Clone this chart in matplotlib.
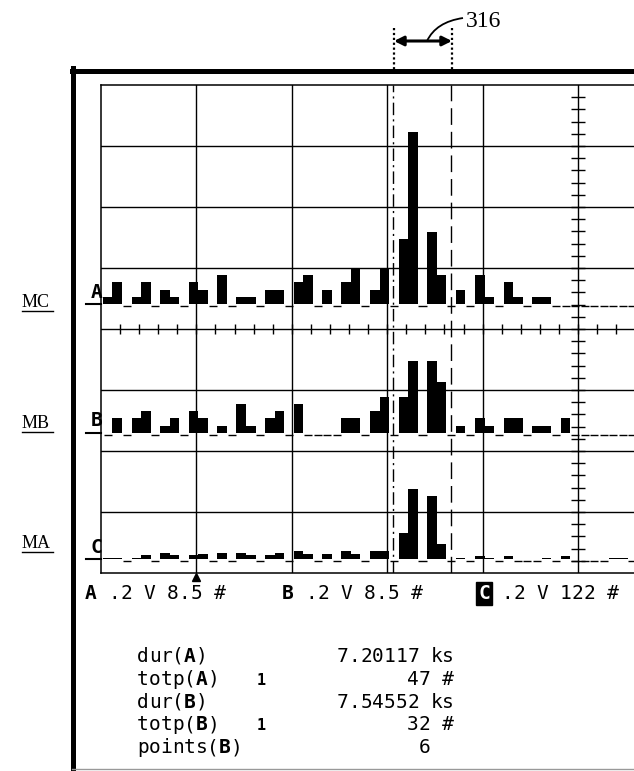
import numpy as np
import matplotlib.pyplot as plt
from matplotlib.lines import Line2D
from matplotlib.patches import FancyArrowPatch, PathPatch
from matplotlib.path import Path

# histogram counts, 10 bins per horizontal division (visible part of the screen)
counts_a = [1, 3, 0, 1, 3, 0, 2, 1, 0, 3, 2, 0, 4, 0, 1, 1, 0, 2, 2, 0,
            3, 4, 0, 2, 0, 3, 5, 0, 2, 5, 0, 9, 24, 0, 10, 4, 0, 2, 0, 4,
            1, 0, 3, 1, 0, 1, 1, 0, 0, 0, 0, 0, 0, 0, 0, 0]
counts_b = [0, 2, 0, 2, 3, 0, 1, 2, 0, 3, 2, 0, 1, 0, 4, 1, 0, 2, 3, 0,
            4, 0, 0, 0, 0, 2, 2, 0, 3, 5, 0, 5, 10, 0, 10, 7, 0, 1, 0, 2,
            1, 0, 2, 2, 0, 1, 1, 0, 2, 0, 0, 0, 0, 0, 0, 0]
counts_c = [2, 2, 0, 2, 8, 0, 12, 7, 0, 7, 9, 0, 11, 0, 11, 7, 0, 8, 11, 0,
            15, 10, 0, 10, 0, 15, 10, 0, 15, 15, 0, 51, 140, 0, 125, 30, 0, 2, 0, 5,
            2, 0, 5, 0, 0, 0, 2, 0, 5, 0, 0, 0, 0, 2, 2, 0]
trace_names = ['A', 'B', 'C']
trace_scales = [8.5, 8.5, 122]          # counts per division
trace_baselines = [4.41, 2.30, 0.23]    # divisions above the bottom of the grid
channel_labels = ['MC', 'MB', 'MA']
readouts = ['A .2 V 8.5 #', 'B .2 V 8.5 #', 'C .2 V 122 #']
meas_names = ['dur(A)', 'totp(A)', 'dur(B)', 'totp(B)', 'points(B)']
meas_values = ['7.20117 ks', '47 #', '7.54552 ks', '32 #', '6  ']
cursors = [3.06, 3.67]
trigger_pos = 1.0

W, H = 634, 771
DIV_X, DIV_Y = 95.4, 61.0
GRID_LEFT, GRID_TOP, GRID_BOTTOM = 101, 85, 573
MONO = 'DejaVu Sans Mono'
SERIF = 'Liberation Serif'
CELL = 11.7


def fxy(x, y):
    # pixel position measured from the top left -> figure fraction
    return x / W, 1 - y / H


def mono(fig, x, y, s, size=14, boxed_first=False):
    for i, ch in enumerate(s):
        if ch == ' ':
            continue
        kw = {}
        if boxed_first and i == 0:
            kw = dict(color='white',
                      bbox=dict(boxstyle='square,pad=0.12', fc='black', ec='black'))
        fig.text(*fxy(x + i * CELL, y + 7), ch, family=MONO, size=size,
                 weight='bold' if ch in 'ABC' else 'normal',
                 ha='left', va='baseline', **kw)


fig = plt.figure(figsize=(W / 100, H / 100), dpi=100)

ax = fig.add_axes([GRID_LEFT / W, (H - GRID_BOTTOM) / H,
                   (W - GRID_LEFT) / W, (GRID_BOTTOM - GRID_TOP) / H])
ax.set_xlim(0, (W - GRID_LEFT) / DIV_X)
ax.set_ylim(0, 8)
ax.set_xticks([])
ax.set_yticks([])
ax.spines['right'].set_visible(False)
for s in ['left', 'top', 'bottom']:
    ax.spines[s].set_linewidth(1.1)

# graticule
for x in range(1, 6):
    ax.axvline(x, color='black', lw=1)
for y in range(1, 8):
    ax.axhline(y, color='black', lw=1)
xt = np.arange(0.2, 5.6, 0.2)
ax.vlines(xt, 4 - 0.08, 4 + 0.08, color='black', lw=1)
ax.hlines(np.arange(0.2, 8, 0.2), 5 - 0.07, 5 + 0.07, color='black', lw=1)

# histogram traces
for name, counts, scale, base in zip(trace_names, [counts_a, counts_b, counts_c],
                                     trace_scales, trace_baselines):
    counts = np.asarray(counts, dtype=float)
    left = 0.02 + 0.1 * np.arange(len(counts))
    nz = counts > 0
    ax.bar(left[nz], counts[nz] / scale, width=0.1, bottom=base, align='edge',
           color='black', lw=0)
    z = ~nz
    ax.hlines(np.full(z.sum(), base - 0.035), left[z] + 0.008, left[z] + 0.092,
              color='black', lw=1)
    ax.plot([-0.16, 0], [base, base], color='black', lw=1.5, clip_on=False)
    ax.text(-0.05, base + 0.04, name, ha='center', va='bottom', family=MONO,
            weight='bold', size=14)

# cursors and trigger marker
ax.axvline(cursors[0], color='black', lw=1, ls=(0, (9, 3, 1.5, 3)))
ax.axvline(cursors[1], color='black', lw=1, ls=(0, (12, 5)))
ax.plot(trigger_pos, -0.07, marker='^', color='black', ms=6, clip_on=False)

# outer frame
fig.add_artist(Line2D([72 / W, 1], [1 - 70.5 / H] * 2, lw=3.6, color='black'))
fig.add_artist(Line2D([72.5 / W] * 2, [1 - 68 / H, 0], lw=3.6, color='black'))
fig.add_artist(Line2D([72 / W, 1], [1 - 769 / H] * 2, lw=1, color='0.6'))

# channel labels on the left
for lab, yc in zip(channel_labels, [302, 423, 543]):
    fig.text(*fxy(22, yc + 5), lab, family=SERIF, size=13, ha='left', va='baseline')
    fig.add_artist(Line2D([22 / W, 53 / W], [1 - (yc + 9) / H] * 2, lw=1, color='black'))

# readout row
for s, x0 in zip(readouts, [85, 282, 478]):
    mono(fig, x0, 592, s, boxed_first=(s[0] == 'C'))

# measurement panel
for i, (nm, val) in enumerate(zip(meas_names, meas_values)):
    yc = 655 + 22.75 * i
    mono(fig, 137, yc, nm)
    if nm.startswith('totp'):
        fig.text(*fxy(257, yc + 7), '1', family=MONO, weight='bold', size=11,
                 ha='left', va='baseline')
    mono(fig, 454 - len(val) * CELL, yc, val)

# "316" callout above the cursors
for xp in [394, 452]:
    fig.add_artist(Line2D([xp / W] * 2, [1 - 28 / H, 1 - 69 / H], lw=1.6,
                          ls=(0, (1, 1.2)), color='black'))
arrow = FancyArrowPatch(fxy(394, 41), fxy(452, 41), transform=fig.transFigure,
                        arrowstyle='<|-|>', mutation_scale=14, lw=2.2,
                        color='black', shrinkA=0, shrinkB=0)
fig.add_artist(arrow)
leader = Path([fxy(427, 41), fxy(436, 22), fxy(463, 18)],
              [Path.MOVETO, Path.CURVE3, Path.CURVE3])
fig.add_artist(PathPatch(leader, transform=fig.transFigure, fill=False, lw=1.3))
fig.text(*fxy(466, 27), '316', family=SERIF, size=17, ha='left', va='baseline')

fig.savefig('out.png', dpi=100, facecolor='white')
